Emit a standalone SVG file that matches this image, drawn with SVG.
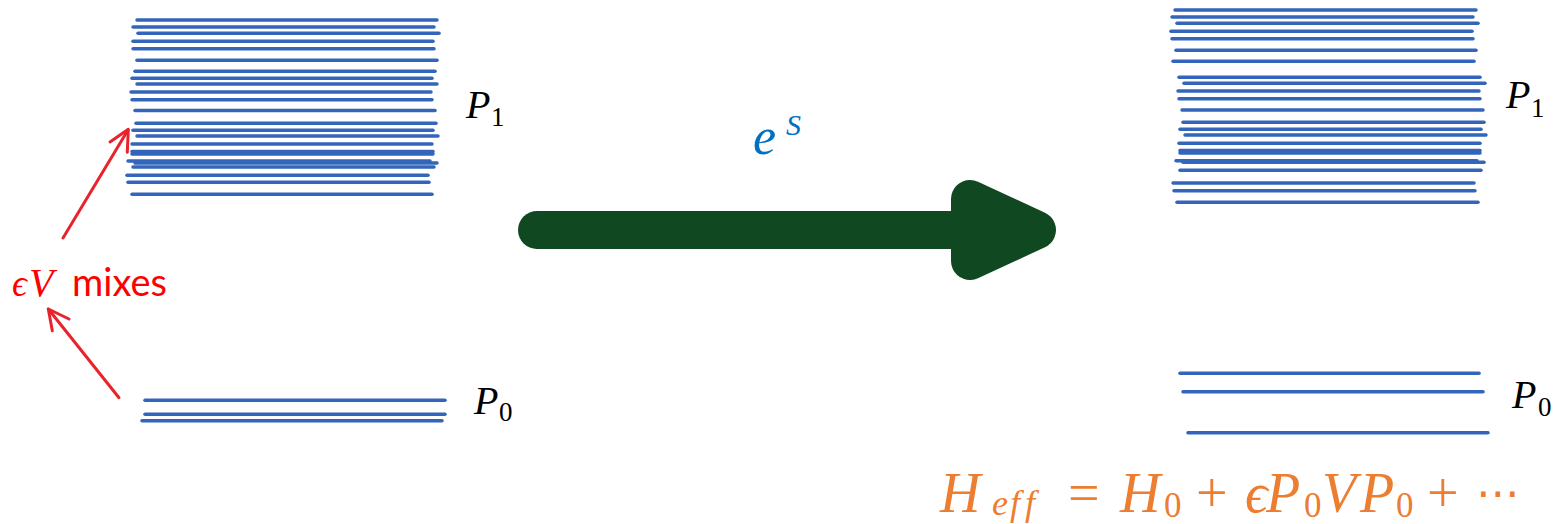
<svg xmlns="http://www.w3.org/2000/svg" width="1555" height="524" viewBox="0 0 1555 524">
<style>
.lv{stroke:#3366BB;stroke-width:3.5;stroke-linecap:round;fill:none}
.var{font-family:"Liberation Serif","DejaVu Serif",serif;font-style:italic}
.num{font-family:"Liberation Serif","DejaVu Serif",serif;font-style:normal}
.lbl{font-size:40px;fill:#000}
.sub{font-size:27px}
.eq{fill:#ED7D31}
.red{stroke:#E8232B;stroke-width:3;fill:none;stroke-linecap:round;stroke-linejoin:round}
</style>
<rect width="1555" height="524" fill="#fff"/>
<g id="left-P1-levels" class="lv">
<line x1="137" y1="20" x2="437" y2="20"/>
<line x1="133" y1="27" x2="434" y2="27"/>
<line x1="138" y1="33.3" x2="439" y2="33.3"/>
<line x1="133" y1="41.3" x2="433" y2="41.3"/>
<line x1="133" y1="48.7" x2="434" y2="48.7"/>
<line x1="137" y1="60.3" x2="437" y2="60.3"/>
<line x1="135" y1="71.3" x2="435" y2="71.3"/>
<line x1="132" y1="78.3" x2="432" y2="78.3"/>
<line x1="137" y1="84" x2="437" y2="84"/>
<line x1="131" y1="92" x2="431" y2="92"/>
<line x1="132" y1="99.7" x2="432" y2="99.7"/>
<line x1="135" y1="110.5" x2="435" y2="110.5"/>
<line x1="136" y1="123.3" x2="436" y2="123.3"/>
<line x1="133" y1="130.3" x2="433" y2="130.3"/>
<line x1="137" y1="136" x2="438" y2="136"/>
<line x1="132" y1="144" x2="432" y2="144"/>
<line x1="132" y1="151.5" x2="433" y2="151.5"/>
<line x1="132" y1="154" x2="433" y2="154"/>
<line x1="128" y1="161" x2="430" y2="161"/>
<line x1="135" y1="163" x2="437" y2="163"/>
<line x1="133" y1="167" x2="434" y2="167"/>
<line x1="127" y1="175.3" x2="428" y2="175.3"/>
<line x1="128" y1="182.3" x2="429" y2="182.3"/>
<line x1="132" y1="194.3" x2="432" y2="194.3"/>
</g>
<g id="left-P0-levels" class="lv">
<line x1="145" y1="400.3" x2="445" y2="400.3"/>
<line x1="145" y1="414.3" x2="445" y2="414.3"/>
<line x1="142" y1="420.7" x2="442" y2="420.7"/>
</g>
<g id="right-P1-levels" class="lv">
<line x1="1175" y1="10" x2="1476" y2="10"/>
<line x1="1172" y1="17" x2="1473" y2="17"/>
<line x1="1177" y1="23.3" x2="1478" y2="23.3"/>
<line x1="1171" y1="31.3" x2="1472" y2="31.3"/>
<line x1="1172" y1="38.7" x2="1473" y2="38.7"/>
<line x1="1176" y1="50.3" x2="1476" y2="50.3"/>
<line x1="1173" y1="61.3" x2="1474" y2="61.3"/>
<line x1="1179" y1="77.3" x2="1480" y2="77.3"/>
<line x1="1184" y1="83.3" x2="1485" y2="83.3"/>
<line x1="1178" y1="91" x2="1479" y2="91"/>
<line x1="1179" y1="98.7" x2="1480" y2="98.7"/>
<line x1="1182" y1="110" x2="1483" y2="110"/>
<line x1="1183" y1="122.3" x2="1484" y2="122.3"/>
<line x1="1180" y1="129.3" x2="1481" y2="129.3"/>
<line x1="1185" y1="135" x2="1486" y2="135"/>
<line x1="1179" y1="143.3" x2="1480" y2="143.3"/>
<line x1="1180" y1="150.5" x2="1480" y2="150.5"/>
<line x1="1180" y1="153" x2="1480" y2="153"/>
<line x1="1176" y1="160.7" x2="1477" y2="160.7"/>
<line x1="1183" y1="162.3" x2="1484" y2="162.3"/>
<line x1="1180" y1="170.3" x2="1481" y2="170.3"/>
<line x1="1173" y1="183" x2="1474" y2="183"/>
<line x1="1174" y1="190.7" x2="1475" y2="190.7"/>
<line x1="1177" y1="202.3" x2="1478" y2="202.3"/>
</g>
<g id="right-P0-levels" class="lv">
<line x1="1180" y1="373.3" x2="1479" y2="373.3"/>
<line x1="1183" y1="391.7" x2="1483" y2="391.7"/>
<line x1="1188" y1="432.7" x2="1488" y2="432.7"/>
</g>
<g id="label-left-P1"><text class="var lbl" x="466" y="118">P<tspan class="num sub" x="491" y="126">1</tspan></text></g>
<g id="label-left-P0"><text class="var lbl" x="474" y="414">P<tspan class="num sub" x="499" y="421">0</tspan></text></g>
<g id="label-right-P1"><text class="var lbl" x="1506" y="108">P<tspan class="num sub" x="1531" y="117">1</tspan></text></g>
<g id="label-right-P0"><text class="var lbl" x="1512" y="408">P<tspan class="num sub" x="1538" y="416">0</tspan></text></g>
<g id="label-eS"><text class="var" x="753" y="154" font-size="52" fill="#0070C0">e<tspan x="786" y="135" font-size="30">S</tspan></text></g>
<g id="label-mixes" fill="#FF0000"><text class="var" x="12" y="296" font-size="37"><tspan>ϵ</tspan><tspan x="29" font-size="40">V</tspan></text><text x="72" y="296" font-family="Lato,'Liberation Sans',sans-serif" font-size="38">mixes</text></g>
<g id="label-Heff" class="eq">
<text class="var" font-size="56" y="512"><tspan x="940">H</tspan></text>
<text class="var" font-size="36" y="515"><tspan x="992">e</tspan><tspan x="1010">f</tspan><tspan x="1025">f</tspan></text>
<text class="num" font-size="56" y="512"><tspan x="1068">=</tspan></text>
<text class="var" font-size="56" y="512"><tspan x="1120">H</tspan></text>
<text class="num" font-size="35" y="517"><tspan x="1164">0</tspan></text>
<text class="num" font-size="56" y="512"><tspan x="1196">+</tspan></text>
<text class="var" font-size="56" y="512"><tspan x="1245">ϵ</tspan><tspan x="1266">P</tspan></text>
<text class="num" font-size="35" y="517"><tspan x="1304">0</tspan></text>
<text class="var" font-size="56" y="512"><tspan x="1322">V</tspan><tspan x="1360">P</tspan></text>
<text class="num" font-size="35" y="517"><tspan x="1396">0</tspan></text>
<text class="num" font-size="56" y="512"><tspan x="1427">+</tspan></text>
<text font-family="'DejaVu Sans',sans-serif" font-size="44" y="508"><tspan x="1476">⋯</tspan></text>
</g>
<g id="connectors">
<g id="transform-arrow" stroke="#0F4821" fill="#0F4821" stroke-linecap="round" stroke-linejoin="round">
<line x1="537" y1="230" x2="1000" y2="230" stroke-width="38"/>
<polygon points="970,199 1037,230 970,261" stroke-width="38"/>
</g>
<g id="mix-arrow-up" class="red">
<line x1="63" y1="238" x2="128" y2="130"/>
<polyline points="110,142 128.3,129.3 127.3,152.3"/>
</g>
<g id="mix-arrow-down" class="red">
<line x1="119" y1="397.7" x2="48.3" y2="309"/>
<polyline points="69,319 48.3,309 52.3,330.7"/>
</g>
</g>
</svg>
